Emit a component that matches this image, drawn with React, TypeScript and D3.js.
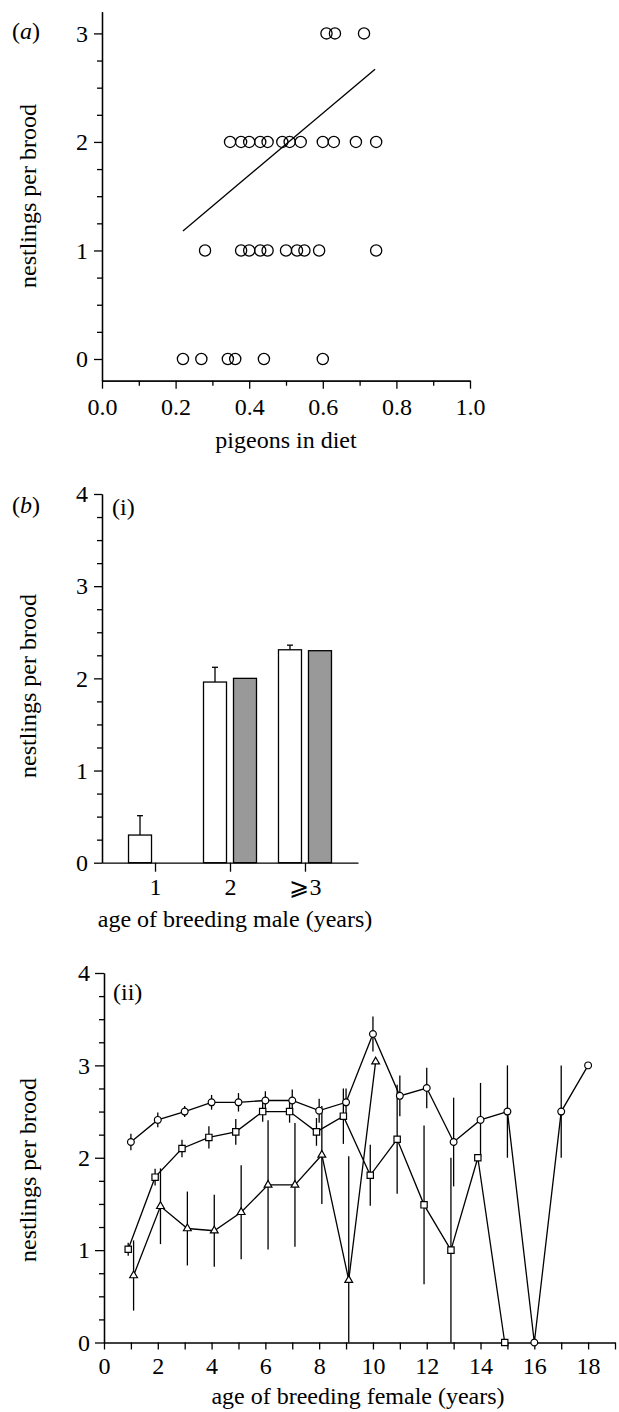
import React from 'react'
import * as d3 from 'd3'

const FONT = '"Liberation Serif", "Times New Roman", Times, serif'

// (a) nestlings per brood against proportion of pigeons in the diet, one array per brood size
const dietBrood0 = [0.22, 0.27, 0.342, 0.362, 0.44, 0.6]
const dietBrood1 = [0.28, 0.378, 0.4, 0.43, 0.45, 0.5, 0.53, 0.55, 0.59, 0.745]
const dietBrood2 = [0.348, 0.378, 0.4, 0.43, 0.45, 0.49, 0.51, 0.54, 0.6, 0.63, 0.69, 0.745]
const dietBrood3 = [0.61, 0.633, 0.712]
const fitX = [0.22, 0.742]
const fitY = [1.18, 2.67]

// (b)(i) male age
const maleAge = ['1', '2', '⩾3']
const maleObserved = [0.3, 1.96, 2.31]
const maleObservedSE = [0.21, 0.16, 0.05]
const malePredicted = [null, 2.0, 2.3]

// (b)(ii) female age, three series
const circleAge = [1, 2, 3, 4, 5, 6, 7, 8, 9, 10, 11, 12, 13, 14, 15, 16, 17, 18]
const circleMean = [2.17, 2.41, 2.5, 2.6, 2.6, 2.62, 2.62, 2.51, 2.6, 3.34, 2.67, 2.755, 2.17, 2.41, 2.5, 0, 2.5, 3.0]
const circleErr = [0.09, 0.08, 0.06, 0.08, 0.1, 0.1, 0.12, 0.13, 0.15, 0.19, 0.22, 0.22, 0.48, 0.4, 0.5, 0, 0.5, 0]

const squareAge = [1, 2, 3, 4, 5, 6, 7, 8, 9, 10, 11, 12, 13, 14, 15]
const squareMean = [1.01, 1.79, 2.1, 2.22, 2.28, 2.5, 2.5, 2.28, 2.45, 1.81, 2.2, 1.49, 1.0, 2.0, 0]
const squareErr = [0.07, 0.09, 0.095, 0.12, 0.14, 0.11, 0.12, 0.15, 0.3, 0.33, 0.59, 0.86, 1.0, 0, 0]

const triangleAge = [1, 2, 3, 4, 5, 6, 7, 8, 9, 10]
const triangleMean = [0.725, 1.475, 1.234, 1.21, 1.41, 1.706, 1.706, 2.03, 0.675, 3.04]
const triangleErr = [0.38, 0.41, 0.4, 0.39, 0.51, 0.7, 0.67, 0.53, 1.34, 0]

const styleAxis = (g) => {
  g.selectAll('path, line').attr('stroke', '#000').attr('stroke-width', 1.3)
  g.selectAll('text').attr('font-family', FONT).attr('font-size', 24).attr('fill', '#000')
}

const minorBetween = (lo, hi, step, majors) =>
  d3.range(lo, hi + 1e-9, step).filter(v => !majors.some(m => Math.abs(m - v) < 1e-6))

export default function App() {
  const stageRef = React.useRef(null)

  React.useEffect(() => {
    const svg = d3.select(stageRef.current)
    svg.selectAll('*').remove()

    const text = (x, y, str, anchor = 'start') =>
      svg.append('text')
        .attr('x', x).attr('y', y)
        .attr('font-family', FONT).attr('font-size', 24)
        .attr('text-anchor', anchor)
        .text(str)

    const yTitle = (cy, str) =>
      svg.append('text')
        .attr('transform', `translate(36,${cy}) rotate(-90)`)
        .attr('font-family', FONT).attr('font-size', 24)
        .attr('text-anchor', 'middle')
        .text(str)

    const panelLabel = (x, y, letter) => {
      const t = svg.append('text').attr('x', x).attr('y', y)
        .attr('font-family', FONT).attr('font-size', 24)
      t.append('tspan').text('(')
      t.append('tspan').attr('font-style', 'italic').text(letter)
      t.append('tspan').text(')')
    }

    // ---------- (a) ----------
    const xA = d3.scaleLinear().domain([0, 1]).range([102, 470])
    const yA = d3.scaleLinear().domain([-0.2, 3.2]).range([380.7, 11.7])

    svg.append('g').attr('transform', `translate(0,${yA.range()[0]})`)
      .call(d3.axisBottom(xA).tickValues(minorBetween(0, 1, 0.1, [0, 0.2, 0.4, 0.6, 0.8, 1])).tickSize(5).tickSizeOuter(0).tickFormat(''))
      .call(styleAxis)
    svg.append('g').attr('transform', `translate(0,${yA.range()[0]})`)
      .call(d3.axisBottom(xA).tickValues([0, 0.2, 0.4, 0.6, 0.8, 1]).tickSize(8).tickSizeOuter(0).tickPadding(9).tickFormat(d3.format('.1f')))
      .call(styleAxis)
    svg.append('g').attr('transform', `translate(${xA.range()[0]},0)`)
      .call(d3.axisLeft(yA).tickValues(minorBetween(0, 3, 0.25, [0, 1, 2, 3])).tickSize(5).tickSizeOuter(0).tickFormat(''))
      .call(styleAxis)
    svg.append('g').attr('transform', `translate(${xA.range()[0]},0)`)
      .call(d3.axisLeft(yA).tickValues([0, 1, 2, 3]).tickSize(8).tickSizeOuter(0).tickPadding(6).tickFormat(d3.format('d')))
      .call(styleAxis)

    svg.append('line')
      .attr('x1', xA(fitX[0])).attr('y1', yA(fitY[0]))
      .attr('x2', xA(fitX[1])).attr('y2', yA(fitY[1]))
      .attr('stroke', '#000').attr('stroke-width', 1.3)

    const scatter = [dietBrood0, dietBrood1, dietBrood2, dietBrood3]
    scatter.forEach((xs, brood) => {
      svg.append('g').selectAll('circle').data(xs).enter().append('circle')
        .attr('cx', d => xA(d)).attr('cy', yA(brood)).attr('r', 5.6)
        .attr('fill', 'none').attr('stroke', '#000').attr('stroke-width', 1.3)
    })

    panelLabel(12, 39, 'a')
    yTitle(196, 'nestlings per brood')
    text(286, 448, 'pigeons in diet', 'middle')

    // ---------- (b)(i) ----------
    const xB = d3.scalePoint().domain(maleAge).range([102, 358]).padding(0.707)
    const yB = d3.scaleLinear().domain([0, 4]).range([862.7, 494])
    const barW = 23
    const barOff = 15

    maleObserved.forEach((v, i) => {
      const cx = xB(maleAge[i]) - barOff
      const top = yB(v + maleObservedSE[i])
      svg.append('line').attr('x1', cx).attr('x2', cx).attr('y1', yB(v)).attr('y2', top)
        .attr('stroke', '#000').attr('stroke-width', 1.3)
      svg.append('line').attr('x1', cx - 3).attr('x2', cx + 3).attr('y1', top).attr('y2', top)
        .attr('stroke', '#000').attr('stroke-width', 1.3)
    })
    svg.append('g').selectAll('rect').data(maleObserved).enter().append('rect')
      .attr('x', (d, i) => xB(maleAge[i]) - barOff - barW / 2)
      .attr('y', d => yB(d))
      .attr('width', barW)
      .attr('height', d => yB(0) - yB(d))
      .attr('fill', '#fff').attr('stroke', '#000').attr('stroke-width', 1.3)
    svg.append('g').selectAll('rect').data(malePredicted.map((d, i) => [d, i]).filter(d => d[0] != null)).enter().append('rect')
      .attr('x', d => xB(maleAge[d[1]]) + barOff - barW / 2)
      .attr('y', d => yB(d[0]))
      .attr('width', barW)
      .attr('height', d => yB(0) - yB(d[0]))
      .attr('fill', '#999').attr('stroke', '#000').attr('stroke-width', 1.3)

    svg.append('g').attr('transform', `translate(0,${yB(0)})`)
      .call(d3.axisBottom(xB).tickSize(9).tickSizeOuter(0).tickPadding(6))
      .call(styleAxis)
    svg.append('g').attr('transform', `translate(102,0)`)
      .call(d3.axisLeft(yB).tickValues(minorBetween(0, 4, 0.25, [0, 1, 2, 3, 4])).tickSize(5).tickSizeOuter(0).tickFormat(''))
      .call(styleAxis)
    svg.append('g').attr('transform', `translate(102,0)`)
      .call(d3.axisLeft(yB).tickValues([0, 1, 2, 3, 4]).tickSize(8).tickSizeOuter(0).tickPadding(6).tickFormat(d3.format('d')))
      .call(styleAxis)

    panelLabel(12, 513, 'b')
    text(112, 515, '(i)')
    yTitle(686, 'nestlings per brood')
    text(235, 927, 'age of breeding male (years)', 'middle')

    // ---------- (b)(ii) ----------
    const xC = d3.scaleLinear().domain([0, 19]).range([104, 615])
    const yC = d3.scaleLinear().domain([0, 4]).range([1342.5, 973])

    svg.append('g').attr('transform', `translate(0,${yC(0)})`)
      .call(d3.axisBottom(xC).tickValues(d3.range(0, 20)).tickSize(7).tickSizeOuter(0).tickPadding(7)
        .tickFormat(d => (d % 2 === 0 ? String(d) : '')))
      .call(styleAxis)
    svg.append('g').attr('transform', `translate(${xC(0)},0)`)
      .call(d3.axisLeft(yC).tickValues(minorBetween(0, 4, 0.25, [0, 1, 2, 3, 4])).tickSize(5).tickSizeOuter(0).tickFormat(''))
      .call(styleAxis)
    svg.append('g').attr('transform', `translate(${xC(0)},0)`)
      .call(d3.axisLeft(yC).tickValues([0, 1, 2, 3, 4]).tickSize(9).tickSizeOuter(0).tickPadding(5).tickFormat(d3.format('d')))
      .call(styleAxis)

    const series = [
      { age: squareAge, mean: squareMean, err: squareErr, shift: -0.1, symbol: d3.symbolSquare, size: 40 },
      { age: triangleAge, mean: triangleMean, err: triangleErr, shift: 0.1, symbol: d3.symbolTriangle, size: 26 },
      { age: circleAge, mean: circleMean, err: circleErr, shift: 0, symbol: d3.symbolCircle, size: 36 },
    ]

    series.forEach(s => {
      const pts = s.age.map((a, i) => ({ x: a + s.shift, y: s.mean[i], e: s.err[i] }))
      svg.append('g').selectAll('line').data(pts.filter(p => p.e > 0)).enter().append('line')
        .attr('x1', p => xC(p.x)).attr('x2', p => xC(p.x))
        .attr('y1', p => yC(Math.max(0, p.y - p.e))).attr('y2', p => yC(p.y + p.e))
        .attr('stroke', '#000').attr('stroke-width', 1.3)
    })
    series.forEach(s => {
      const pts = s.age.map((a, i) => ({ x: a + s.shift, y: s.mean[i] }))
      svg.append('path').datum(pts)
        .attr('d', d3.line().x(p => xC(p.x)).y(p => yC(p.y)))
        .attr('fill', 'none').attr('stroke', '#000').attr('stroke-width', 1.3)
    })
    series.forEach(s => {
      const pts = s.age.map((a, i) => ({ x: a + s.shift, y: s.mean[i] }))
      svg.append('g').selectAll('path').data(pts).enter().append('path')
        .attr('transform', p => `translate(${xC(p.x)},${yC(p.y)})`)
        .attr('d', d3.symbol().type(s.symbol).size(s.size))
        .attr('fill', '#fff').attr('stroke', '#000').attr('stroke-width', 1.2)
    })

    text(113, 1000, '(ii)')
    yTitle(1170, 'nestlings per brood')
    text(358, 1404, 'age of breeding female (years)', 'middle')
  }, [])

  return (
    <svg ref={stageRef} width={619} height={1412}
      style={{ position: 'absolute', left: 0, top: 0, background: '#fff' }} />
  )
}
